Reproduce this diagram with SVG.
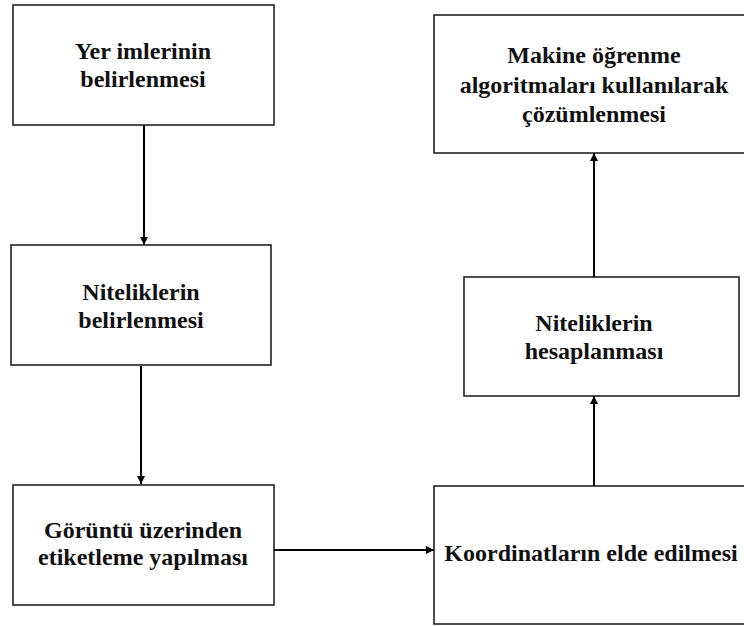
<svg xmlns="http://www.w3.org/2000/svg" width="744" height="626" viewBox="0 0 744 626">
<defs>
<style>
.box{fill:#fff;stroke:#222;stroke-width:1.6}
.t{font-family:'Liberation Serif','Times New Roman',serif;font-weight:bold;font-size:24px;fill:#111;text-anchor:middle}
.c{stroke:#000;stroke-width:2;fill:none;marker-end:url(#ah)}
</style>
<marker id="ah" viewBox="0 0 10 10" refX="10" refY="5" markerWidth="4.5" markerHeight="4" orient="auto" markerUnits="strokeWidth">
<path d="M0,0 L10,5 L0,10 z" fill="#000"/>
</marker>
</defs>
<rect width="744" height="626" fill="#fff"/>
<g id="n1"><rect class="box" x="13" y="5" width="261" height="120"/>
<text class="t" x="143" y="59">Yer imlerinin</text><text class="t" x="143" y="87">belirlenmesi</text></g>
<g id="n2"><rect class="box" x="11" y="245" width="260" height="120"/>
<text class="t" x="141" y="300">Niteliklerin</text><text class="t" x="141" y="328">belirlenmesi</text></g>
<g id="n3"><rect class="box" x="13" y="485" width="261" height="120"/>
<text class="t" x="143" y="538">Görüntü üzerinden</text><text class="t" x="143" y="565">etiketleme yapılması</text></g>
<g id="n4"><rect class="box" x="434" y="486" width="320" height="138"/>
<text class="t" x="591" y="561">Koordinatların elde edilmesi</text></g>
<g id="n5"><rect class="box" x="464" y="277" width="275" height="119"/>
<text class="t" x="594" y="331">Niteliklerin</text><text class="t" x="594" y="359">hesaplanması</text></g>
<g id="n6"><rect class="box" x="434" y="15" width="320" height="138"/>
<text class="t" x="594" y="63">Makine öğrenme</text><text class="t" x="594" y="93">algoritmaları kullanılarak</text><text class="t" x="594" y="122">çözümlenmesi</text></g>
<g id="connectors">
<line class="c" x1="144" y1="125" x2="144" y2="245"/>
<line class="c" x1="141" y1="366" x2="141" y2="484"/>
<line class="c" x1="274" y1="550" x2="434" y2="550"/>
<line class="c" x1="594" y1="486" x2="594" y2="396"/>
<line class="c" x1="594" y1="277" x2="594" y2="153"/>
</g>
</svg>
